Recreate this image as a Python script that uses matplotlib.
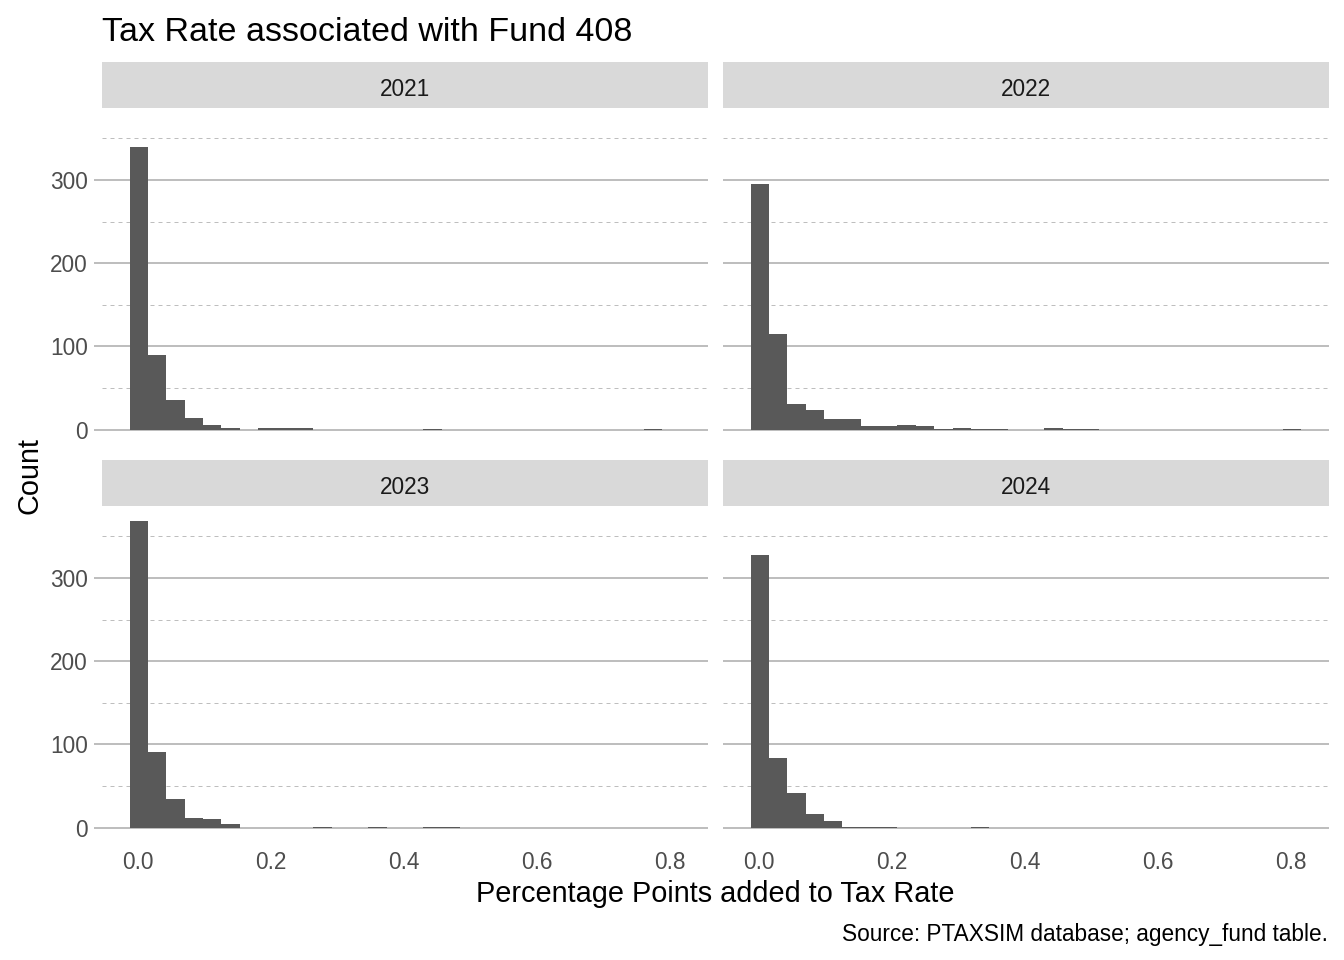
import numpy as np
import matplotlib
matplotlib.use("Agg")
import matplotlib.pyplot as plt

plt.rcParams['font.family'] = ['Liberation Sans', 'DejaVu Sans']

# histogram counts, 30 bins per year
years = ["2021", "2022", "2023", "2024"]
counts_2021 = [340, 90, 36, 14, 6, 2, 0, 2, 2, 2, 0, 0, 0, 0, 0, 0, 1, 0, 0, 0,
               0, 0, 0, 0, 0, 0, 0, 0, 1, 0]
counts_2022 = [295, 115, 31, 24, 13, 13, 5, 5, 6, 4, 1, 2, 1, 1, 0, 0, 2, 1, 1, 0,
               0, 0, 0, 0, 0, 0, 0, 0, 0, 1]
counts_2023 = [368, 91, 35, 12, 11, 5, 0, 0, 0, 0, 1, 0, 0, 1, 0, 0, 1, 1, 0, 0,
               0, 0, 0, 0, 0, 0, 0, 0, 0, 0]
counts_2024 = [328, 84, 42, 17, 8, 1, 1, 1, 0, 0, 0, 0, 1, 0, 0, 0, 0, 0, 0, 0,
               0, 0, 0, 0, 0, 0, 0, 0, 0, 0]
all_counts = [counts_2021, counts_2022, counts_2023, counts_2024]
bin_width = 0.0276
bin_origin = 0.0015  # centre of the first bin
x_ticks = [0.0, 0.2, 0.4, 0.6, 0.8]
x_labels = ["0.0", "0.2", "0.4", "0.6", "0.8"]
y_ticks = [0, 100, 200, 300]
y_minor = [50, 150, 250, 350]

W, H = 1344, 960
fig = plt.figure(figsize=(W / 100, H / 100), dpi=100)


def rect(x0, y0, x1, y1):
    return [x0 / W, 1 - y1 / H, (x1 - x0) / W, (y1 - y0) / H]


centers = bin_origin + np.arange(len(counts_2021)) * bin_width
lo = centers[0] - bin_width / 2
hi = centers[-1] + bin_width / 2
xpad = 0.05 * (hi - lo)
ymax = max(max(c) for c in all_counts)

cols = [(102, 708), (723, 1329)]
rows = [(62, 108, 445), (460, 506, 843)]
grey = '#BEBEBE'

for i, (year, counts) in enumerate(zip(years, all_counts)):
    r, c = divmod(i, 2)
    x0, x1 = cols[c]
    s0, p0, p1 = rows[r]

    # strip
    sax = fig.add_axes(rect(x0, s0, x1, p0))
    sax.set_facecolor('#D9D9D9')
    sax.set_xticks([])
    sax.set_yticks([])
    for sp in sax.spines.values():
        sp.set_visible(False)
    sax.text(0.5, 0.26, year, transform=sax.transAxes, ha='center', va='baseline',
             fontsize=16.3, color='#1A1A1A')

    ax = fig.add_axes(rect(x0, p0, x1, p1))
    ax.bar(centers, counts, width=bin_width, color='#595959', linewidth=0, zorder=2)
    ax.set_xlim(lo - xpad, hi + xpad)
    ax.set_ylim(-0.05 * ymax, 1.05 * ymax)
    for sp in ax.spines.values():
        sp.set_visible(False)

    ax.set_xticks(x_ticks)
    ax.set_xticklabels(x_labels)
    ax.set_yticks(y_ticks)
    ax.set_yticks(y_minor, minor=True)

    ax.grid(axis='y', which='major', color=grey, linewidth=1.44)
    ax.grid(axis='y', which='minor', color=grey, linewidth=0.72, linestyle=(0, (4, 4)))
    ax.grid(axis='x', which='major', color='white', linewidth=1.44)
    ax.xaxis.set_zorder(0.7)

    ax.tick_params(which='minor', length=0)
    ax.tick_params(axis='x', length=0, pad=6, labelsize=16.3, labelcolor='#4D4D4D',
                   labelbottom=(r == 1))
    if c == 0:
        ax.tick_params(axis='y', length=5.76, width=1.44, color=grey, pad=4.3,
                       labelsize=16.3, labelcolor='#4D4D4D')
    else:
        ax.tick_params(axis='y', length=0, labelleft=False)

fig.text(102 / W, 1 - 41 / H, "Tax Rate associated with Fund 408", ha='left',
         va='baseline', fontsize=24.5, color='black')
fig.text(715.5 / W, 1 - 902 / H, "Percentage Points added to Tax Rate", ha='center',
         va='baseline', fontsize=20.8, color='black')
fig.text(29.5 / W, 1 - 475.5 / H, "Count", rotation=90, ha='center', va='center',
         fontsize=20.8, color='black')
fig.text(1328 / W, 1 - 941 / H, "Source: PTAXSIM database; agency_fund table.",
         ha='right', va='baseline', fontsize=16.3, color='black')

fig.savefig("out.png", dpi=100, facecolor='white')
